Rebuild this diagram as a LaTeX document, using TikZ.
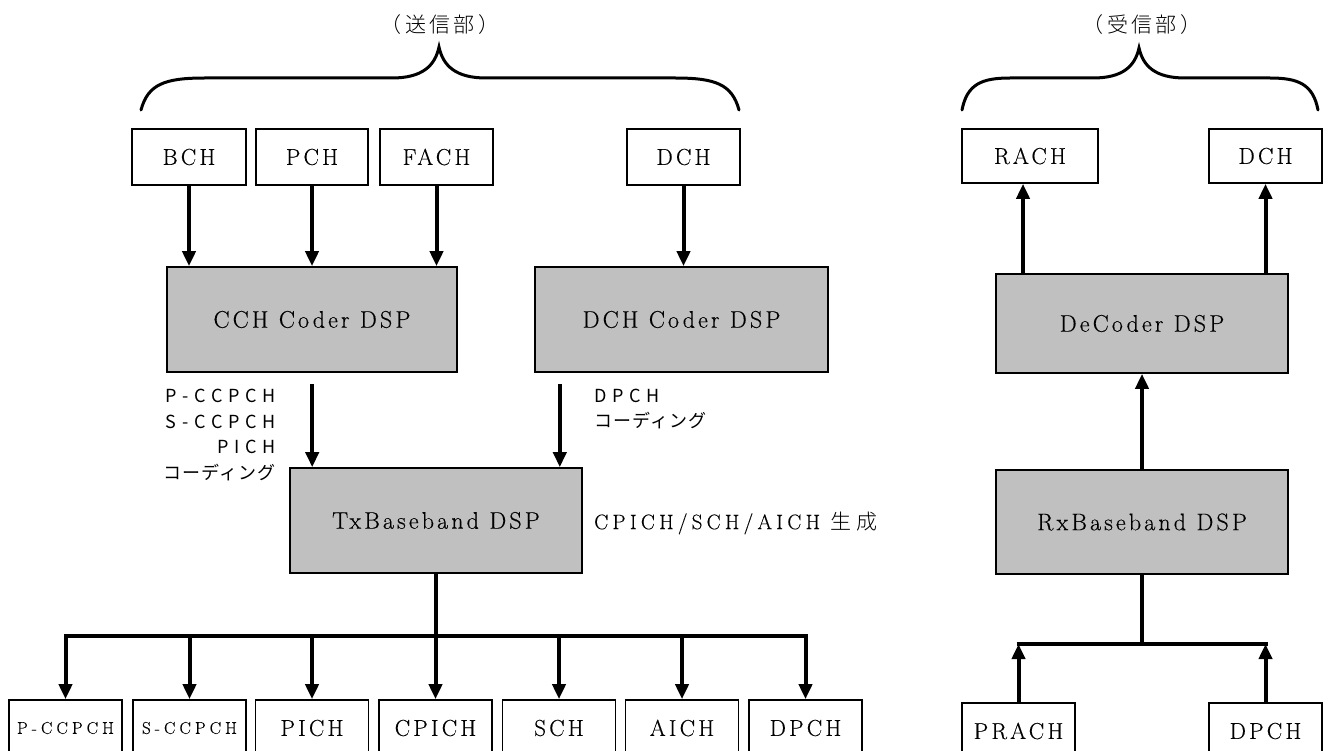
\documentclass[tikz,border=0pt]{standalone}
\usepackage{fontspec}
\setmainfont{Latin Modern Roman}
\newfontfamily\lmchan[LetterSpace=14, FakeBold=0.35]{Latin Modern Roman}
\newfontfamily\lmsmall[LetterSpace=24, FakeBold=0.3]{Latin Modern Roman}
\newfontfamily\lmdsp[LetterSpace=13, FakeBold=0.35]{Latin Modern Roman}
\newfontfamily\lmnote[LetterSpace=20, FakeBold=0.3]{Latin Modern Roman}
\newfontfamily\jpwide[LetterSpace=32]{Noto Sans CJK JP}
\newfontfamily\jpkana[LetterSpace=6]{Noto Sans CJK JP}
\newfontfamily\jptitle[LetterSpace=16]{Noto Sans CJK JP Light}
\newfontfamily\jpgen[LetterSpace=25]{Noto Sans CJK JP Light}
\usetikzlibrary{arrows.meta}
\definecolor{dspgray}{RGB}{192,192,192}

\tikzset{
  chanbox/.style={draw, line width=1.6pt, fill=white, inner sep=0pt,
    minimum width=113pt, minimum height=56pt,
    font=\lmchan\fontsize{23}{27}\selectfont},
  smallchan/.style={chanbox, font=\lmsmall\fontsize{17}{20}\selectfont},
  dspbox/.style={draw, line width=1.6pt, fill=dspgray, inner sep=0pt,
    minimum width=292pt, minimum height=105pt,
    font=\lmdsp\fontsize{24}{28}\selectfont},
  flow/.style={line width=4pt, -{Triangle[length=15pt,width=13pt]}},
  busline/.style={line width=4pt},
  brace/.style={line width=3pt, line cap=round},
  sidenote/.style={inner sep=0pt, font=\fontsize{18}{25.5}\selectfont},
  heading/.style={inner sep=0pt, font=\jptitle\fontsize{21}{25}\selectfont}
}

\begin{document}
\begin{tikzpicture}[x=1pt, y=-1pt]
\useasboundingbox (0,0) rectangle (1329,751);
\clip (0,0) rectangle (1329,751);

% ---------- transmitter section ----------
\node[heading] (txhead) at (440,25) {（送信部）};
\draw[brace] (141,110) .. controls (148,84) and (165,78) .. (205,78)
  -- (392,78) .. controls (422,78) and (435,66) .. (439,47)
  .. controls (443,66) and (456,78) .. (486,78)
  -- (675,78) .. controls (715,78) and (732,84) .. (739,110);

\node[chanbox, minimum width=114pt] (bch)  at (189,157)   {BCH};
\node[chanbox, minimum width=112pt] (pch)  at (312,157)   {PCH};
\node[chanbox] (fach) at (436.5,157) {FACH};
\node[chanbox] (dch)  at (683.5,157) {DCH};

\node[dspbox, minimum width=290pt] (cch) at (312,319.5)   {CCH Coder DSP};
\node[dspbox, minimum width=293pt] (dchc) at (681.5,319.5) {DCH Coder DSP};
\node[dspbox] (tx) at (436,520.5) {TxBaseband DSP};

\draw[flow] (bch.south)  -- (bch.south  |- cch.north);
\draw[flow] (pch.south)  -- (pch.south  |- cch.north);
\draw[flow] (fach.south) -- (fach.south |- cch.north);
\draw[flow] (dch.south)  -- (dch.south  |- dchc.north);

\coordinate (txin1) at ([xshift=23pt]tx.north west);
\coordinate (txin2) at ([xshift=-23pt]tx.north east);
\draw[flow] ([yshift=-11pt]cch.south -| txin1) -- (txin1);
\draw[flow] ([yshift=-11pt]dchc.south -| txin2) -- (txin2);

\node[sidenote, anchor=east, align=right] (cchnote) at (276,435)
  {\jpwide P-CCPCH\\\jpwide S-CCPCH\\\jpwide PICH\\\jpkana コーディング};
\node[sidenote, anchor=west, align=left] (dchnote) at (594,409)
  {\jpwide DPCH\\\jpkana コーディング};
\node[inner sep=0pt, anchor=west, font=\lmnote\fontsize{21}{25}\selectfont]
  (gen) at (594,523) {CPICH/SCH/AICH {\jpgen 生成}};

\foreach \nm/\cx/\txt in {b1/65.5/P-CCPCH, b2/189.5/S-CCPCH}
  \node[smallchan] (\nm) at (\cx,728) {\txt};
\foreach \nm/\cx/\txt in {b3/312/PICH, b4/435.5/CPICH, b5/559/SCH, b6/682/AICH, b7/805.5/DPCH}
  \node[chanbox] (\nm) at (\cx,728) {\txt};

\coordinate (txbus) at (0,636);
\draw[busline] (tx.south) -- (tx.south |- txbus);
\draw[line width=4pt, line join=miter, {Triangle[length=15pt,width=13pt]}-{Triangle[length=15pt,width=13pt]}]
  (b1.north) -- (b1.north |- txbus) -- (b7.north |- txbus) -- (b7.north);
\foreach \nm in {b2,b3,b4,b5,b6}
  \draw[flow] (\nm.north |- txbus) -- (\nm.north);

% ---------- receiver section ----------
\node[heading] (rxhead) at (1142,25) {（受信部）};
\draw[brace] (962,110) .. controls (967,84) and (982,78) .. (1010,78)
  -- (1093,78) .. controls (1123,78) and (1135,66) .. (1139,48)
  .. controls (1143,66) and (1155,78) .. (1185,78)
  -- (1270,78) .. controls (1298,78) and (1313,84) .. (1318,110);

\node[chanbox, minimum width=136pt, minimum height=54pt] (rach) at (1030,156) {RACH};
\node[chanbox, minimum height=54pt] (rdch) at (1265.5,156) {DCH};

\node[dspbox, minimum height=99pt] (dec) at (1142,323.5) {DeCoder DSP};
\node[dspbox, minimum height=104pt] (rx) at (1142,522) {RxBaseband DSP};

\coordinate (racharr) at ([xshift=-7pt]rach.south);
\draw[flow] (dec.north -| racharr) -- (racharr);
\draw[flow] (dec.north -| rdch.south) -- (rdch.south);
\draw[flow] (rx.north) -- (dec.south);

\node[chanbox] (prach) at (1018.5,731) {PRACH};
\node[chanbox] (rdpch) at (1265.5,731) {DPCH};

\coordinate (rxbus) at (0,644);
\draw[busline] (rx.south) -- (rx.south |- rxbus);
\draw[busline] ([xshift=-2pt]prach.north |- rxbus) -- ([xshift=2pt]rdpch.north |- rxbus);
\draw[flow] (prach.north) -- (prach.north |- rxbus);
\draw[flow] (rdpch.north) -- (rdpch.north |- rxbus);
\end{tikzpicture}
\end{document}
